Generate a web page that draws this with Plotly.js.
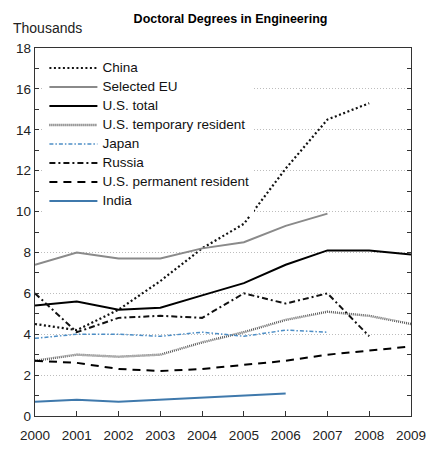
<!DOCTYPE html>
<html><head><meta charset="utf-8">
<script src="https://cdn.plot.ly/plotly-3.0.1.min.js"></script>
<style>html,body{margin:0;padding:0;background:#fff}#chart{width:429px;height:453px}</style>
</head><body><div id="chart"></div>
<script>
const years = [2000,2001,2002,2003,2004,2005,2006,2007,2008,2009];
const seriesNames = ["China","Selected EU","U.S. total","U.S. temporary resident","Japan","Russia","U.S. permanent resident","India"];
const china      = [4.5,4.2,5.2,6.6,8.2,9.4,12.1,14.5,15.3];
const selectedEU = [7.4,8.0,7.7,7.7,8.2,8.5,9.3,9.9];
const usTotal    = [5.4,5.6,5.2,5.3,5.9,6.5,7.4,8.1,8.1,7.9];
const usTemp     = [2.7,3.0,2.9,3.0,3.6,4.1,4.7,5.1,4.9,4.5];
const japan      = [3.8,4.0,4.0,3.9,4.1,3.9,4.2,4.1];
const russia     = [6.0,4.1,4.8,4.9,4.8,6.0,5.5,6.0,3.9];
const usPerm     = [2.7,2.6,2.3,2.2,2.3,2.5,2.7,3.0,3.2,3.4];
const india      = [0.7,0.8,0.7,0.8,0.9,1.0,1.1];
const yTickVals = [0,2,4,6,8,10,12,14,16,18];
const xTickVals = years;

const values = [china, selectedEU, usTotal, usTemp, japan, russia, usPerm, india];
const styles = [
  {color:'#111', width:2.2, dash:'2px,2.5px'},
  {color:'#8a8a8a', width:2, dash:'solid'},
  {color:'#000', width:2, dash:'solid'},
  {color:'#5a5a5a', width:2.4, dash:'1px,1px'},
  {color:'#4d8ec6', width:1.5, dash:'4px,2px,1.5px,2px'},
  {color:'#111', width:2, dash:'6px,3px,2px,3px'},
  {color:'#000', width:2, dash:'8px,6px'},
  {color:'#3f79ac', width:2, dash:'solid'}
];
const traces = values.map((v,i)=>({
  x: years.slice(0, v.length), y: v,
  name: '<span style="font-size:13.5px">' + seriesNames[i] + '</span>',
  type:'scatter', mode:'lines', line: styles[i]
}));

const font = {family:'"Liberation Sans", Arial, sans-serif', size:13, color:'#222'};
const layout = {
  width:429, height:453,
  margin:{l:35, r:18, t:48, b:37},
  paper_bgcolor:'#fff', plot_bgcolor:'#fff',
  font: font,
  title:{text:'<b>Doctoral Degrees in Engineering</b>', font:{family:font.family, size:12.5, color:'#000'},
         xref:'paper', x:0.52, xanchor:'center', yref:'container', y:1-19/453, yanchor:'middle'},
  showlegend:true,
  legend:{x:0.025, y:0.985, xanchor:'left', yanchor:'top', bgcolor:'#fff', borderwidth:0,
          font:{family:font.family, size:10.8, color:'#111'}, tracegroupgap:0, itemwidth:48},
  xaxis:{range:[2000,2009], tickvals:xTickVals, ticktext:xTickVals.map(String),
         ticks:'inside', ticklen:5, tickcolor:'#333', showline:true, linecolor:'#333', linewidth:1.3,
         mirror:true, showgrid:false, zeroline:false, tickfont:{size:13.5, color:'#222'},
         ticklabelstandoff:6},
  yaxis:{range:[0,18], tickvals:yTickVals, ticktext:yTickVals.map(String),
         ticks:'inside', ticklen:4, tickcolor:'#333', showline:true, linecolor:'#333', linewidth:1.3,
         mirror:'ticks', showgrid:true, gridcolor:'#bdbdbd', griddash:'1px,2px', gridwidth:1,
         zeroline:false, tickfont:{size:13.5, color:'#222'},
         minor:{dtick:1, ticks:'inside', ticklen:4, tickcolor:'#333', showgrid:false}},
  annotations:[{text:'Thousands', xref:'paper', yref:'paper', x:(11-35)/376, y:(416-28)/368,
                xanchor:'left', yanchor:'middle', showarrow:false, font:{size:14, color:'#222'}}]
};
Plotly.newPlot('chart', traces, layout, {staticPlot:true, displayModeBar:false});
</script></body></html>
